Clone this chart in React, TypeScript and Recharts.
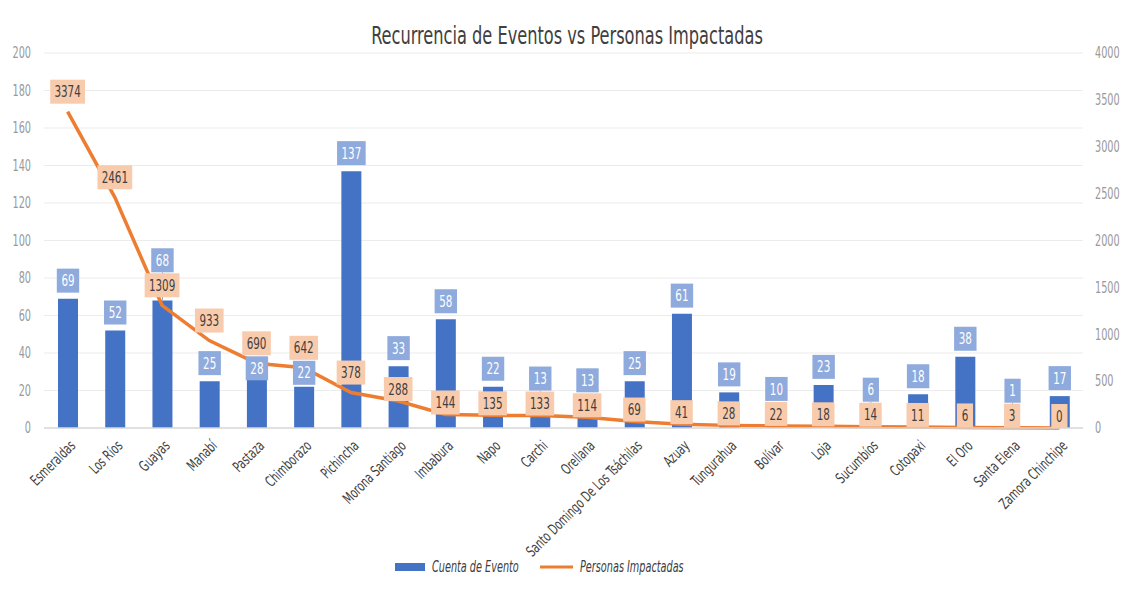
import React from "react";
import {
  ComposedChart,
  Bar,
  Line,
  XAxis,
  YAxis,
  CartesianGrid,
  Legend,
  LabelList,
} from "recharts";

const provincias = [
  "Esmeraldas",
  "Los Ríos",
  "Guayas",
  "Manabí",
  "Pastaza",
  "Chimborazo",
  "Pichincha",
  "Morona Santiago",
  "Imbabura",
  "Napo",
  "Carchi",
  "Orellana",
  "Santo Domingo De Los Tsáchilas",
  "Azuay",
  "Tungurahua",
  "Bolívar",
  "Loja",
  "Sucumbíos",
  "Cotopaxi",
  "El Oro",
  "Santa Elena",
  "Zamora Chinchipe",
];

const cuentaEventos = [69, 52, 68, 25, 28, 22, 137, 33, 58, 22, 13, 13, 25, 61, 19, 10, 23, 6, 18, 38, 1, 17];
const personasImpactadas = [
  3374, 2461, 1309, 933, 690, 642, 378, 288, 144, 135, 133, 114, 69, 41, 28, 22, 18, 14, 11, 6, 3, 0,
];

const leftTicks = [0, 20, 40, 60, 80, 100, 120, 140, 160, 180, 200];
const rightTicks = [0, 500, 1000, 1500, 2000, 2500, 3000, 3500, 4000];

const data = provincias.map((p, i) => ({
  provincia: p,
  eventos: cuentaEventos[i],
  personas: personasImpactadas[i],
}));

// only a condensed DejaVu is around, so squeeze it a bit more to get the narrow look
const FONT = "'DejaVu Sans Condensed', 'DejaVu Sans', sans-serif";
const SX = 0.72;
const BLUE = "#4472c4";
const ORANGE = "#ed7d31";
const BOX_H = 24;

const boxWidth = (s: string) => 10 + s.length * 6.2;

function Narrow({ x, y, anchor = "middle", fill, size, italic, children }: any) {
  return (
    <text
      transform={`translate(${x},${y}) scale(${SX},1)`}
      x={0}
      y={0}
      dy="0.35em"
      textAnchor={anchor}
      fill={fill}
      fontSize={size}
      fontStyle={italic ? "italic" : undefined}
      fontFamily={FONT}
    >
      {children}
    </text>
  );
}

// line labels sit a bit above the point (closer for the tiny values)
const lineLabelOffset = (v: number) => (v < 300 ? 12 : 20);

function LineLabel(props: any) {
  const { x, y, value } = props;
  if (x == null || y == null) return null;
  const s = String(value);
  const w = boxWidth(s);
  const ly = y - lineLabelOffset(Number(value));
  return (
    <g>
      <rect x={x - w / 2} y={ly - BOX_H / 2} width={w} height={BOX_H} fill="#f8cbad" />
      <Narrow x={x} y={ly} fill="#404040" size={16}>
        {s}
      </Narrow>
    </g>
  );
}

function BarLabel(props: any) {
  const { x, y, width, height, value, index } = props;
  const v = Number(value);
  if (!v) return null;
  const cx = x + width / 2;
  const base = y + height;
  const k = height / v;
  const p = personasImpactadas[index];
  const lineLy = base - (p * k) / 20 - lineLabelOffset(p);
  let ly = y - 18;
  const d = ly - lineLy;
  if (Math.abs(d) < BOX_H + 1) ly = d > 5 ? lineLy + BOX_H + 1 : lineLy - BOX_H - 1;
  const s = String(value);
  const w = boxWidth(s);
  const gap = y - (ly + BOX_H / 2);
  return (
    <g>
      {gap > 12 && <line x1={cx} x2={cx} y1={ly + BOX_H / 2} y2={y} stroke="#a6a6a6" strokeWidth={1} />}
      <rect x={cx - w / 2} y={ly - BOX_H / 2} width={w} height={BOX_H} fill="#8faadc" />
      <Narrow x={cx} y={ly} fill="#ffffff" size={16}>
        {s}
      </Narrow>
    </g>
  );
}

function ProvinciaTick(props: any) {
  const { x, y, payload } = props;
  return (
    <g transform={`translate(${x + 5},${y + 7}) rotate(-45)`}>
      <Narrow x={0} y={0} anchor="end" fill="#404040" size={15}>
        {payload.value}
      </Narrow>
    </g>
  );
}

function ValueTick(props: any) {
  const { x, y, payload, textAnchor } = props;
  return (
    <Narrow x={x} y={y} anchor={textAnchor} fill="#9a9a9a" size={15}>
      {payload.value}
    </Narrow>
  );
}

function LegendBox() {
  return (
    <div style={{ height: 20, display: "flex", justifyContent: "center", paddingRight: 52 }}>
      <svg width={292} height={20}>
        <rect x={0} y={6} width={30} height={8} fill={BLUE} />
        <Narrow x={37} y={10} anchor="start" fill="#404040" size={15} italic>
          Cuenta de Evento
        </Narrow>
        <line x1={145} x2={178} y1={10} y2={10} stroke={ORANGE} strokeWidth={3} />
        <Narrow x={185} y={10} anchor="start" fill="#404040" size={15} italic>
          Personas Impactadas
        </Narrow>
      </svg>
    </div>
  );
}

export default function App() {
  return (
    <div
      style={{
        position: "relative",
        width: 1118,
        height: 590,
        margin: "-2px 0 0 -1px",
        border: "1px solid #d9d9d9",
        background: "#fff",
      }}
    >
      <div
        style={{
          position: "absolute",
          top: 16,
          left: 0,
          width: "100%",
          textAlign: "center",
          fontFamily: FONT,
          fontSize: 24,
          color: "#404040",
          lineHeight: "26px",
          transform: "scaleX(0.75)",
        }}
      >
        Recurrencia de Eventos vs Personas Impactadas
      </div>
      <ComposedChart width={1118} height={590} data={data} margin={{ top: 46, right: 0, left: 0, bottom: 20 }}>
        <CartesianGrid yAxisId="left" vertical={false} stroke="#ececec" strokeWidth={1.2} />
        <XAxis
          dataKey="provincia"
          interval={0}
          height={129}
          tick={<ProvinciaTick />}
          tickLine={false}
          axisLine={{ stroke: "#d9d9d9", strokeWidth: 1.5 }}
        />
        <YAxis
          yAxisId="left"
          width={36}
          domain={[0, 200]}
          ticks={leftTicks}
          tickLine={false}
          axisLine={false}
          tickSize={0}
          tickMargin={13}
          tick={<ValueTick />}
        />
        <YAxis
          yAxisId="right"
          orientation="right"
          width={43}
          domain={[0, 4000]}
          ticks={rightTicks}
          tickLine={false}
          axisLine={false}
          tickSize={0}
          tickMargin={12}
          tick={<ValueTick />}
        />
        <Legend verticalAlign="bottom" content={<LegendBox />} />
        <Bar yAxisId="left" dataKey="eventos" name="Cuenta de Evento" fill={BLUE} barSize={20} isAnimationActive={false}>
          <LabelList dataKey="eventos" content={<BarLabel />} />
        </Bar>
        <Line
          yAxisId="right"
          type="linear"
          dataKey="personas"
          name="Personas Impactadas"
          stroke={ORANGE}
          strokeWidth={3.5}
          dot={false}
          activeDot={false}
          isAnimationActive={false}
        >
          <LabelList dataKey="personas" content={<LineLabel />} />
        </Line>
      </ComposedChart>
    </div>
  );
}
